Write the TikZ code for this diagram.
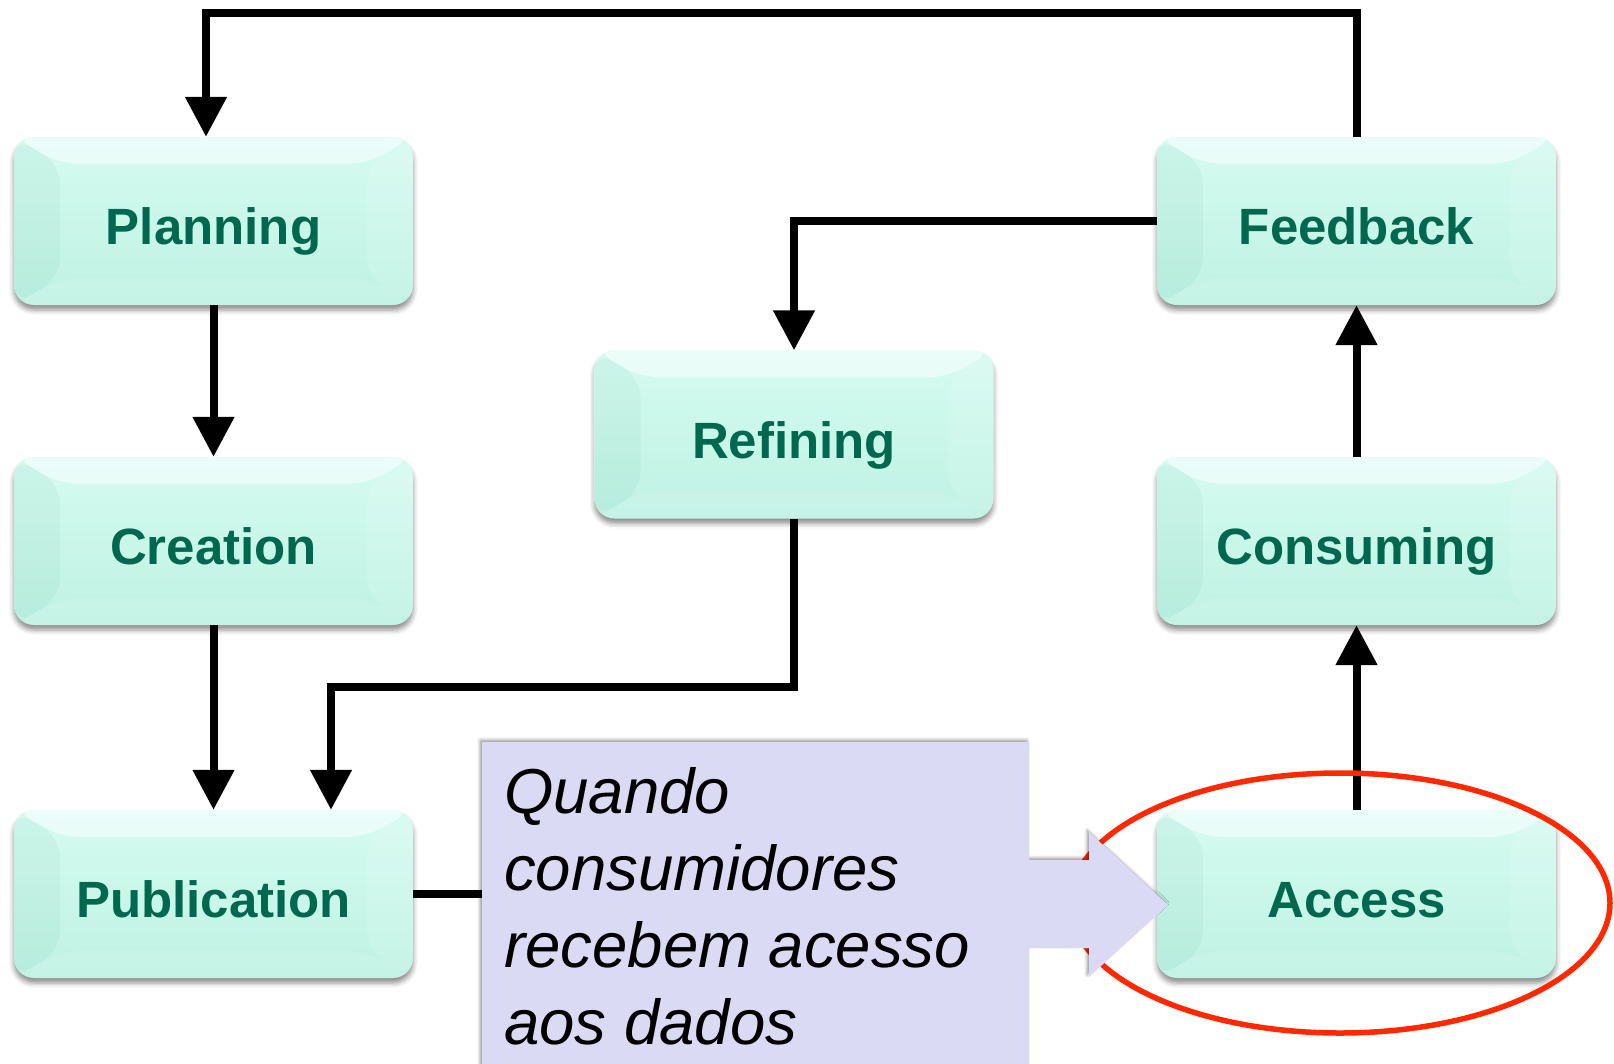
\documentclass[tikz,border=0pt]{standalone}
\usepackage{fontspec}
\setmainfont{Liberation Sans}
\usetikzlibrary{arrows.meta,calc,shadows.blur}

\definecolor{boxtext}{RGB}{0,104,78}
\definecolor{boxtop}{RGB}{214,251,241}
\definecolor{boxbot}{RGB}{190,242,227}
\definecolor{bevelshade}{RGB}{0,120,90}
\definecolor{notefill}{RGB}{218,218,244}
\definecolor{ringred}{RGB}{255,40,0}

\tikzset{
  stagebox/.style={
    rounded corners=20pt,
    minimum width=399pt, minimum height=168pt,
    text height=47pt, text depth=0pt,
    top color=boxtop, bottom color=boxbot, draw=none,
    blur shadow={shadow xshift=0pt, shadow yshift=-5pt,
                 shadow blur radius=5pt, shadow opacity=45},
    text=boxtext, font=\bfseries\fontsize{51}{60}\selectfont,
    path picture={
      % bevelled rim: top light, left shaded, right and bottom faintly light
      \fill[white, opacity=.5]
        (path picture bounding box.north west) -- (path picture bounding box.north east)
        -- ($(path picture bounding box.north east)+(-46pt,-27pt)$)
        -- ($(path picture bounding box.north west)+(46pt,-27pt)$) -- cycle;
      \fill[bevelshade, opacity=.045]
        (path picture bounding box.north west) -- ($(path picture bounding box.north west)+(46pt,-27pt)$)
        -- ($(path picture bounding box.south west)+(46pt,27pt)$)
        -- (path picture bounding box.south west) -- cycle;
      \fill[white, opacity=.12]
        (path picture bounding box.north east) -- ($(path picture bounding box.north east)+(-46pt,-27pt)$)
        -- ($(path picture bounding box.south east)+(-46pt,27pt)$)
        -- (path picture bounding box.south east) -- cycle;
      \fill[white, opacity=.1]
        (path picture bounding box.south west) -- ($(path picture bounding box.south west)+(46pt,27pt)$)
        -- ($(path picture bounding box.south east)+(-46pt,27pt)$)
        -- (path picture bounding box.south east) -- cycle;
    }
  },
  flow/.style={line width=8pt, black, -{Triangle[width=40pt,length=40pt]}},
  plainline/.style={line width=8pt, black}
}

\begin{document}
\begin{tikzpicture}[x=1pt, y=-1pt]
  \useasboundingbox (0,0) rectangle (1614,1063);

  % process stages
  \node[stagebox] (plan) at (213.5,221)  {Planning};
  \node[stagebox] (cre)  at (213.5,541)  {Creation};
  \node[stagebox] (pub)  at (213.5,894)  {Publication};
  \node[stagebox] (ref)  at (794,434.5)  {Refining};
  \node[stagebox] (fb)   at (1356.5,221) {Feedback};
  \node[stagebox] (con)  at (1356.5,541) {Consuming};
  \node[stagebox] (acc)  at (1356.5,894) {Access};

  % bend points of the routed connectors
  \coordinate (loopL) at (206,13);
  \coordinate (bend)  at (331,687);
  \coordinate (noteL) at (482,894);

  % connectors
  \draw[flow] (plan.south) -- (cre.north);
  \draw[flow] (cre.south) -- (pub.north);
  \draw[flow] (acc.north) -- (con.south);
  \draw[flow] (con.north) -- (fb.south);
  \draw[flow] (fb.west) -| (ref.north);
  \draw[flow] (ref.south) |- (bend) -- (bend |- pub.north);
  \draw[flow] (fb.north) |- (loopL) -- (loopL |- plan.north);
  \draw[plainline] (pub.east) -- (noteL);

  % highlight ring around Access
  \draw[ringred, line width=5.5pt] (1340,903) ellipse [x radius=270, y radius=130];

  % callout pointing at Access
  \fill[notefill,
        blur shadow={shadow xshift=-2pt, shadow yshift=2pt,
                     shadow blur radius=3pt, shadow opacity=40}]
    (482,742) -- (1029,742) -- (1029,860) -- (1089,860) -- (1089,832)
    -- (1168,905) -- (1089,977) -- (1089,948) -- (1029,948)
    -- (1029,1070) -- (482,1070) -- cycle;
  \node[anchor=north west, align=left, inner sep=0pt,
        font=\itshape\fontsize{63.5}{77}\selectfont] (note) at (504,767)
    {Quando\\consumidores\\recebem acesso\\aos dados};
\end{tikzpicture}
\end{document}
